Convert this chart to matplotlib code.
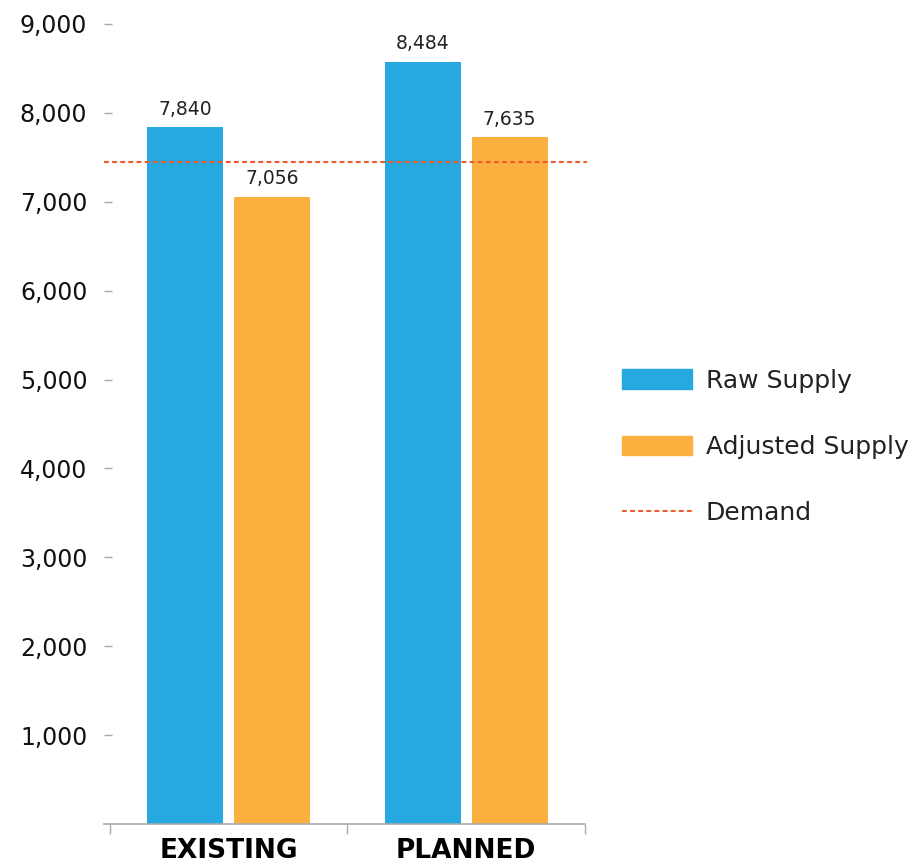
import matplotlib.pyplot as plt
import numpy as np
from matplotlib.patches import Patch
from matplotlib.lines import Line2D

categories = ['EXISTING', 'PLANNED']
# alturas de las barras tal como se dibujan en la imagen
raw_supply = [7840, 8575]
adjusted_supply = [7056, 7730]
# valores impresos sobre las barras
raw_labels = ['7,840', '8,484']
adjusted_labels = ['7,056', '7,635']
demand = 7450

BLUE = '#26A9E0'
ORANGE = '#FBB040'
RED = '#F05A28'

plt.rcParams['font.family'] = 'DejaVu Sans'

fig = plt.figure(figsize=(9.09, 8.63), dpi=100)
ax = fig.add_axes([104 / 909, 39 / 863, 481 / 909, 800 / 863])

x = np.arange(len(categories))
offset = 0.183
width = 0.32

bars1 = ax.bar(x - offset, raw_supply, width, color=BLUE)
bars2 = ax.bar(x + offset, adjusted_supply, width, color=ORANGE)
ax.axhline(demand, xmin=0, xmax=1.005, color=RED, lw=1.5,
           linestyle=(0, (2.3, 1.6)), clip_on=False)

# valores sobre las barras
ax.bar_label(bars1, labels=raw_labels, padding=6, fontsize=13.5, color='#222222')
ax.bar_label(bars2, labels=adjusted_labels, padding=6, fontsize=13.5, color='#222222')

ax.set_xlim(-0.525, 1.5)
ax.set_ylim(0, 9000)

ax.set_yticks(np.arange(1000, 9001, 1000))
ax.set_yticklabels([f'{v:,}' for v in range(1000, 9001, 1000)])
ax.tick_params(axis='y', direction='in', length=6, width=1, color='#aaaaaa',
               pad=12, labelsize=17, labelcolor='#111111')

ax.set_xticks(x)
ax.set_xticklabels(categories, fontweight='bold', fontsize=19)
ax.tick_params(axis='x', length=0, pad=10, labelcolor='#000000')
ax.set_xticks([-0.5, 0.5, 1.5], minor=True)
ax.tick_params(axis='x', which='minor', length=7, width=1, color='#aaaaaa')

for s in ['top', 'right', 'left']:
    ax.spines[s].set_visible(False)
ax.spines['bottom'].set_color('#aaaaaa')
ax.spines['bottom'].set_linewidth(1.2)

handles = [Patch(color=BLUE, label='Raw Supply'),
           Patch(color=ORANGE, label='Adjusted Supply'),
           Line2D([0], [0], color=RED, lw=1.5, linestyle=(0, (2.3, 1.6)), label='Demand')]
fig.legend(handles=handles, loc='center left', bbox_to_anchor=(622 / 909, 416 / 863),
           frameon=False, fontsize=18, handlelength=2.8, handleheight=0.82,
           handletextpad=0.55, labelspacing=1.7, borderpad=0, borderaxespad=0,
           labelcolor='#222222')

plt.savefig('out.png', dpi=100)
plt.close()
